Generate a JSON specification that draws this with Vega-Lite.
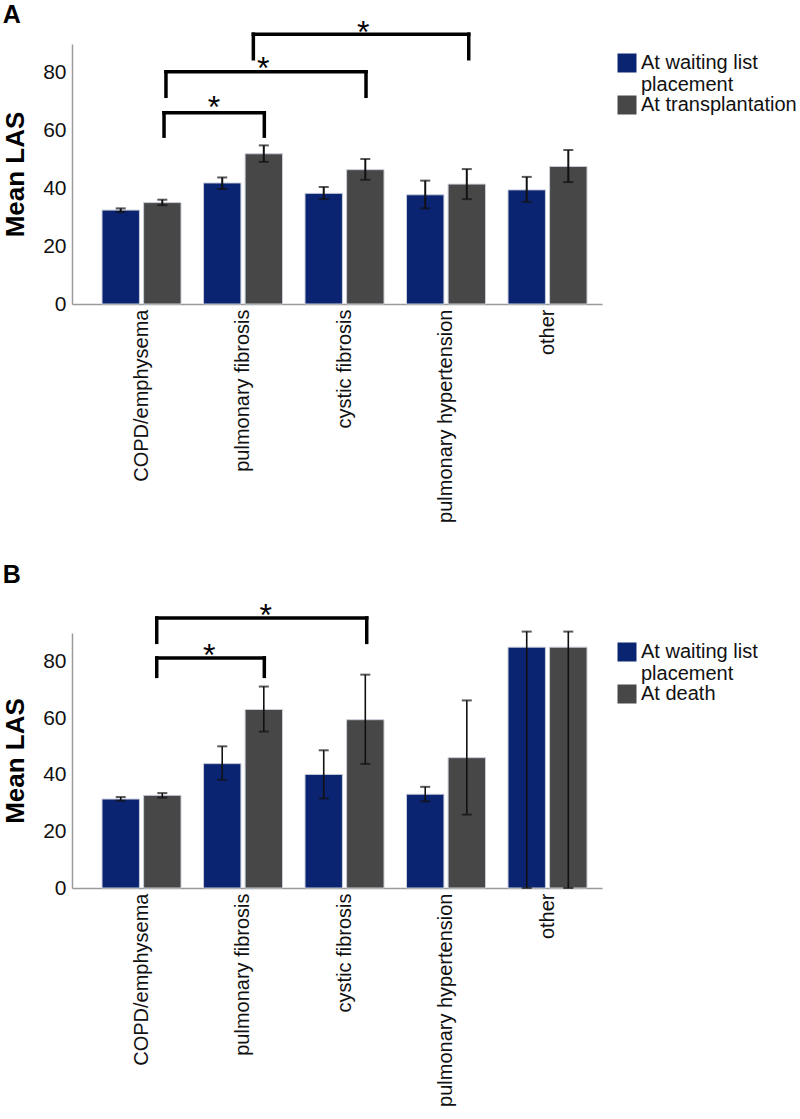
{
  "$schema": "https://vega.github.io/schema/vega-lite/v6.json",
  "background": "white",
  "padding": {"left": 2, "top": 3, "right": 0, "bottom": 0},
  "config": {
    "font": "Liberation Sans",
    "view": {"stroke": null},
    "axis": {"grid": false, "ticks": false, "domainColor": "#9a9a9a", "domainWidth": 1.5, "labelColor": "#111111", "labelFont": "Liberation Sans"},
    "legend": {"labelFont": "Liberation Sans"}
  },
  "datasets": {
    "barsA": [
      {"diagnosis": "COPD/emphysema", "series": "At waiting list placement", "mean": 32.5, "lo": 31.8, "hi": 33.1},
      {"diagnosis": "COPD/emphysema", "series": "At transplantation", "mean": 35.1, "lo": 34.2, "hi": 36.1},
      {"diagnosis": "pulmonary fibrosis", "series": "At waiting list placement", "mean": 41.9, "lo": 39.8, "hi": 43.8},
      {"diagnosis": "pulmonary fibrosis", "series": "At transplantation", "mean": 52.0, "lo": 49.2, "hi": 54.9},
      {"diagnosis": "cystic fibrosis", "series": "At waiting list placement", "mean": 38.3, "lo": 36.3, "hi": 40.5},
      {"diagnosis": "cystic fibrosis", "series": "At transplantation", "mean": 46.5, "lo": 43.0, "hi": 50.2},
      {"diagnosis": "pulmonary hypertension", "series": "At waiting list placement", "mean": 37.8, "lo": 33.1, "hi": 42.7},
      {"diagnosis": "pulmonary hypertension", "series": "At transplantation", "mean": 41.5, "lo": 36.3, "hi": 46.7},
      {"diagnosis": "other", "series": "At waiting list placement", "mean": 39.5, "lo": 35.4, "hi": 44.0},
      {"diagnosis": "other", "series": "At transplantation", "mean": 47.6, "lo": 42.2, "hi": 53.3}
    ],
    "barsB": [
      {"diagnosis": "COPD/emphysema", "series": "At waiting list placement", "mean": 31.4, "lo": 30.8, "hi": 32.1},
      {"diagnosis": "COPD/emphysema", "series": "At death", "mean": 32.7, "lo": 31.9, "hi": 33.5},
      {"diagnosis": "pulmonary fibrosis", "series": "At waiting list placement", "mean": 43.9, "lo": 38.2, "hi": 50.0},
      {"diagnosis": "pulmonary fibrosis", "series": "At death", "mean": 63.0, "lo": 55.2, "hi": 71.1},
      {"diagnosis": "cystic fibrosis", "series": "At waiting list placement", "mean": 40.1, "lo": 31.6, "hi": 48.6},
      {"diagnosis": "cystic fibrosis", "series": "At death", "mean": 59.4, "lo": 43.8, "hi": 75.3},
      {"diagnosis": "pulmonary hypertension", "series": "At waiting list placement", "mean": 33.1, "lo": 30.6, "hi": 35.7},
      {"diagnosis": "pulmonary hypertension", "series": "At death", "mean": 46.0, "lo": 25.9, "hi": 66.2},
      {"diagnosis": "other", "series": "At waiting list placement", "mean": 85.0, "lo": 0, "hi": 90.5},
      {"diagnosis": "other", "series": "At death", "mean": 85.0, "lo": 0, "hi": 90.5}
    ],
    "bracketsA": [
      {"id": "A1", "x1": 0.222, "x2": 1.21, "xs": 0.714, "y": 66.2, "yl": 58.1, "ys": 70.6},
      {"id": "A2", "x1": 0.241, "x2": 2.212, "xs": 1.2, "y": 80.4, "yl": 71.9, "ys": 84.1},
      {"id": "A3", "x1": 1.102, "x2": 3.224, "xs": 2.185, "y": 93.4, "yl": 84.9, "ys": 96.5}
    ],
    "bracketsB": [
      {"id": "B1", "x1": 0.15, "x2": 1.21, "xs": 0.667, "y": 81.2, "yl": 74.7, "ys": 84.7},
      {"id": "B2", "x1": 0.15, "x2": 2.219, "xs": 1.224, "y": 95.3, "yl": 86.7, "ys": 98.8}
    ]
  },
  "spacing": 40,
  "resolve": {"scale": {"x": "independent", "y": "independent", "color": "independent", "xOffset": "independent"}},
  "vconcat": [
    {
      "title": {"text": "A", "offset": -11, "anchor": "start", "frame": "bounds", "fontSize": 25, "fontWeight": "bold", "color": "#000000"},
      "width": 530,
      "height": 260,
      "resolve": {"scale": {"x": "independent"}},
      "layer": [
        {
          "data": {"name": "barsA"},
          "encoding": {
            "x": {"field": "diagnosis", "type": "nominal", "sort": ["COPD/emphysema", "pulmonary fibrosis", "cystic fibrosis", "pulmonary hypertension", "other"],
              "scale": {"paddingInner": 0.2217, "paddingOuter": 0.2217, "align": 0.667},
              "axis": {"title": null, "labelAngle": -90, "labelPadding": 5, "labelFontSize": 20, "labelLimit": 400, "ticks": false}},
            "xOffset": {"field": "series", "type": "nominal", "sort": ["At waiting list placement", "At transplantation"], "scale": {"paddingInner": 0.1, "paddingOuter": 0}}
          },
          "layer": [
            {
              "mark": {"type": "bar", "stroke": "#c8cdd8", "strokeWidth": 1},
              "encoding": {
                "y": {"field": "mean", "type": "quantitative", "title": "Mean LAS", "scale": {"domain": [0, 90], "nice": false},
                  "axis": {"values": [0, 20, 40, 60, 80], "title": "Mean LAS", "titleFontSize": 26, "titleFontWeight": "bold", "titleColor": "#000000", "labelFontSize": 21, "labelPadding": 6, "titlePadding": 14}},
                "color": {"field": "series", "type": "nominal", "sort": ["At waiting list placement", "At transplantation"],
                  "scale": {"domain": ["At waiting list placement", "At transplantation"], "range": ["#0b2472", "#474747"]},
                  "legend": {"title": null, "orient": "right", "offset": 6, "padding": 9, "symbolType": "square", "symbolSize": 361, "symbolStrokeWidth": 0, "labelFontSize": 20, "labelColor": "#111111", "labelLimit": 300, "labelOffset": 4, "rowPadding": -4,
                    "labelExpr": "datum.label == 'At waiting list placement' ? ['At waiting list', 'placement'] : datum.label"}}
              }
            },
            {
              "mark": {"type": "rule", "color": "#111111", "strokeWidth": 2},
              "encoding": {"y": {"field": "lo", "type": "quantitative", "title": "Mean LAS"}, "y2": {"field": "hi"}}
            },
            {
              "mark": {"type": "tick", "color": "#111111", "thickness": 2, "size": 10},
              "encoding": {"y": {"field": "lo", "type": "quantitative", "title": "Mean LAS"}}
            },
            {
              "mark": {"type": "tick", "color": "#111111", "thickness": 2, "size": 10},
              "encoding": {"y": {"field": "hi", "type": "quantitative", "title": "Mean LAS"}}
            }
          ]
        },
        {
          "data": {"name": "bracketsA"},
          "layer": [
            {
              "mark": {"type": "rule", "color": "#000000", "strokeWidth": 3.5, "strokeCap": "square"},
              "encoding": {
                "x": {"field": "x1", "type": "quantitative", "scale": {"domain": [-0.6847, 4.537], "nice": false, "zero": false}, "axis": null},
                "x2": {"field": "x2"},
                "y": {"field": "y", "type": "quantitative", "title": "Mean LAS"}
              }
            },
            {
              "mark": {"type": "rule", "color": "#000000", "strokeWidth": 3.5, "strokeCap": "square"},
              "encoding": {
                "x": {"field": "x1", "type": "quantitative", "axis": null},
                "y": {"field": "y", "type": "quantitative", "title": "Mean LAS"},
                "y2": {"field": "yl"}
              }
            },
            {
              "mark": {"type": "rule", "color": "#000000", "strokeWidth": 3.5, "strokeCap": "square"},
              "encoding": {
                "x": {"field": "x2", "type": "quantitative", "axis": null},
                "y": {"field": "y", "type": "quantitative", "title": "Mean LAS"},
                "y2": {"field": "yl"}
              }
            },
            {
              "mark": {"type": "text", "text": "*", "fontSize": 32, "baseline": "alphabetic", "dy": 18, "color": "#000000"},
              "encoding": {
                "x": {"field": "xs", "type": "quantitative", "axis": null},
                "y": {"field": "ys", "type": "quantitative", "title": "Mean LAS"}
              }
            }
          ]
        }
      ]
    },
    {
      "title": {"text": "B", "offset": 12, "anchor": "start", "frame": "bounds", "fontSize": 25, "fontWeight": "bold", "color": "#000000"},
      "width": 530,
      "height": 255,
      "resolve": {"scale": {"x": "independent"}},
      "layer": [
        {
          "data": {"name": "barsB"},
          "encoding": {
            "x": {"field": "diagnosis", "type": "nominal", "sort": ["COPD/emphysema", "pulmonary fibrosis", "cystic fibrosis", "pulmonary hypertension", "other"],
              "scale": {"paddingInner": 0.2217, "paddingOuter": 0.2217, "align": 0.667},
              "axis": {"title": null, "labelAngle": -90, "labelPadding": 5, "labelFontSize": 20, "labelLimit": 400, "ticks": false}},
            "xOffset": {"field": "series", "type": "nominal", "sort": ["At waiting list placement", "At death"], "scale": {"paddingInner": 0.1, "paddingOuter": 0}}
          },
          "layer": [
            {
              "mark": {"type": "bar", "stroke": "#c8cdd8", "strokeWidth": 1},
              "encoding": {
                "y": {"field": "mean", "type": "quantitative", "title": "Mean LAS", "scale": {"domain": [0, 90], "nice": false},
                  "axis": {"values": [0, 20, 40, 60, 80], "title": "Mean LAS", "titleFontSize": 26, "titleFontWeight": "bold", "titleColor": "#000000", "labelFontSize": 21, "labelPadding": 6, "titlePadding": 14}},
                "color": {"field": "series", "type": "nominal", "sort": ["At waiting list placement", "At death"],
                  "scale": {"domain": ["At waiting list placement", "At death"], "range": ["#0b2472", "#474747"]},
                  "legend": {"title": null, "orient": "right", "offset": 6, "padding": 9, "symbolType": "square", "symbolSize": 361, "symbolStrokeWidth": 0, "labelFontSize": 20, "labelColor": "#111111", "labelLimit": 300, "labelOffset": 4, "rowPadding": -4,
                    "labelExpr": "datum.label == 'At waiting list placement' ? ['At waiting list', 'placement'] : datum.label"}}
              }
            },
            {
              "mark": {"type": "rule", "color": "#111111", "strokeWidth": 1.6},
              "encoding": {"y": {"field": "lo", "type": "quantitative", "title": "Mean LAS"}, "y2": {"field": "hi"}}
            },
            {
              "mark": {"type": "tick", "color": "#111111", "thickness": 2, "size": 10},
              "encoding": {"y": {"field": "lo", "type": "quantitative", "title": "Mean LAS"}}
            },
            {
              "mark": {"type": "tick", "color": "#111111", "thickness": 2, "size": 10},
              "encoding": {"y": {"field": "hi", "type": "quantitative", "title": "Mean LAS"}}
            }
          ]
        },
        {
          "data": {"name": "bracketsB"},
          "layer": [
            {
              "mark": {"type": "rule", "color": "#000000", "strokeWidth": 3.5, "strokeCap": "square"},
              "encoding": {
                "x": {"field": "x1", "type": "quantitative", "scale": {"domain": [-0.6847, 4.537], "nice": false, "zero": false}, "axis": null},
                "x2": {"field": "x2"},
                "y": {"field": "y", "type": "quantitative", "title": "Mean LAS"}
              }
            },
            {
              "mark": {"type": "rule", "color": "#000000", "strokeWidth": 3.5, "strokeCap": "square"},
              "encoding": {
                "x": {"field": "x1", "type": "quantitative", "axis": null},
                "y": {"field": "y", "type": "quantitative", "title": "Mean LAS"},
                "y2": {"field": "yl"}
              }
            },
            {
              "mark": {"type": "rule", "color": "#000000", "strokeWidth": 3.5, "strokeCap": "square"},
              "encoding": {
                "x": {"field": "x2", "type": "quantitative", "axis": null},
                "y": {"field": "y", "type": "quantitative", "title": "Mean LAS"},
                "y2": {"field": "yl"}
              }
            },
            {
              "mark": {"type": "text", "text": "*", "fontSize": 32, "baseline": "alphabetic", "dy": 18, "color": "#000000"},
              "encoding": {
                "x": {"field": "xs", "type": "quantitative", "axis": null},
                "y": {"field": "ys", "type": "quantitative", "title": "Mean LAS"}
              }
            }
          ]
        }
      ]
    }
  ]
}
